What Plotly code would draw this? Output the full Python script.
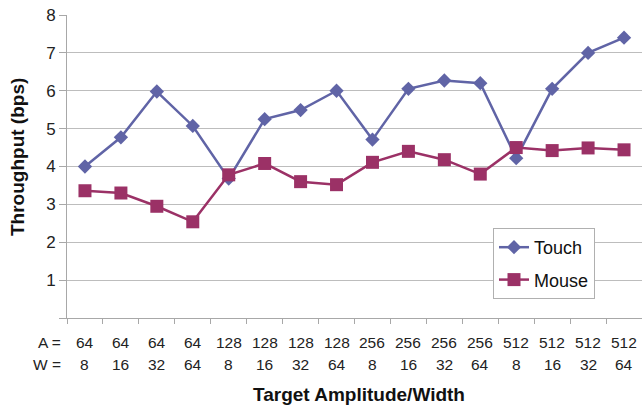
import plotly.graph_objects as go

amplitudes = [64, 64, 64, 64, 128, 128, 128, 128, 256, 256, 256, 256, 512, 512, 512, 512]
widths = [8, 16, 32, 64, 8, 16, 32, 64, 8, 16, 32, 64, 8, 16, 32, 64]
touch = [4.00, 4.77, 5.98, 5.07, 3.68, 5.25, 5.49, 6.00, 4.71, 6.05, 6.27, 6.20, 4.22, 6.05, 7.00, 7.40]
mouse = [3.36, 3.30, 2.95, 2.54, 3.78, 4.08, 3.60, 3.52, 4.11, 4.40, 4.18, 3.80, 4.50, 4.42, 4.49, 4.44]
y_ticks = [0, 1, 2, 3, 4, 5, 6, 7, 8]

idx = list(range(len(amplitudes)))
FONT = "Liberation Sans, Arial, sans-serif"
TOUCH_C = "#6064A6"
MOUSE_C = "#9B3166"
TXT = "#222222"

fig = go.Figure()
fig.add_trace(go.Scatter(
    x=idx, y=touch, name="Touch", mode="lines+markers", legendgroup="t",
    line=dict(color=TOUCH_C, width=2.5),
    marker=dict(symbol="diamond", size=11, color=TOUCH_C),
))
fig.add_trace(go.Scatter(
    x=idx, y=mouse, name="Mouse", mode="lines+markers", legendgroup="m",
    line=dict(color=MOUSE_C, width=2.5),
    marker=dict(symbol="square", size=13, color=MOUSE_C),
))

CAT_SIZE = 15.5
annotations = []
for i, (a, w) in enumerate(zip(amplitudes, widths)):
    annotations.append(dict(x=i, y=0, xref="x", yref="paper", text=str(a), showarrow=False,
                            yanchor="middle", yshift=-24, font=dict(size=CAT_SIZE, color=TXT)))
    annotations.append(dict(x=i, y=0, xref="x", yref="paper", text=str(w), showarrow=False,
                            yanchor="middle", yshift=-46, font=dict(size=CAT_SIZE, color=TXT)))
annotations.append(dict(x=0, y=0, xref="paper", yref="paper", text="A =", showarrow=False,
                        xanchor="right", xshift=-4, yanchor="middle", yshift=-24,
                        font=dict(size=CAT_SIZE, color=TXT)))
annotations.append(dict(x=0, y=0, xref="paper", yref="paper", text="W =", showarrow=False,
                        xanchor="right", xshift=-4, yanchor="middle", yshift=-46,
                        font=dict(size=CAT_SIZE, color=TXT)))
annotations.append(dict(x=0.5, y=0, xref="paper", yref="paper", text="<b>Target Amplitude/Width</b>",
                        showarrow=False, yanchor="middle", yshift=-76, xshift=4,
                        font=dict(size=19, color="#111")))
annotations.append(dict(x=0, y=(318 - 157) / 303, xref="paper", yref="paper",
                        text="<b>Throughput (bps)</b>", textangle=-90, showarrow=False,
                        xanchor="center", yanchor="middle", xshift=-50,
                        font=dict(size=19, color="#111")))

fig.update_layout(
    width=642, height=407,
    margin=dict(l=67, r=0, t=15, b=89, autoexpand=False),
    paper_bgcolor="white", plot_bgcolor="white",
    font=dict(family=FONT, size=16, color=TXT),
    showlegend=True,
    legend=dict(x=(493 - 67) / 575, y=(318 - 228) / 303, xanchor="left", yanchor="top",
                bgcolor="white", bordercolor="#B0B0B0", borderwidth=1,
                traceorder="grouped", tracegroupgap=6,
                font=dict(size=18, color="#111")),
    annotations=annotations,
    xaxis=dict(
        range=[-0.5, len(idx) - 0.5], showgrid=False, zeroline=False, automargin=False,
        showline=True, linecolor="#A8A8A8", linewidth=1,
        showticklabels=False, ticks="outside", ticklen=0,
        minor=dict(ticks="outside", ticklen=5, tick0=-0.5, dtick=1, tickcolor="#A8A8A8", showgrid=False),
    ),
    yaxis=dict(
        range=[0, 8], tickmode="array", tickvals=y_ticks, automargin=False,
        ticktext=["" if v == 0 else str(v) for v in y_ticks],
        showgrid=True, gridcolor="#BDBDBD", gridwidth=1, zeroline=False,
        showline=True, linecolor="#A8A8A8", linewidth=1,
        ticks="outside", ticklen=7, tickcolor="#A8A8A8",
        tickfont=dict(size=17, color=TXT),
    ),
)
fig.write_html("out.html", config={"displayModeBar": False},
               post_script="document.body.style.margin='0px';")
